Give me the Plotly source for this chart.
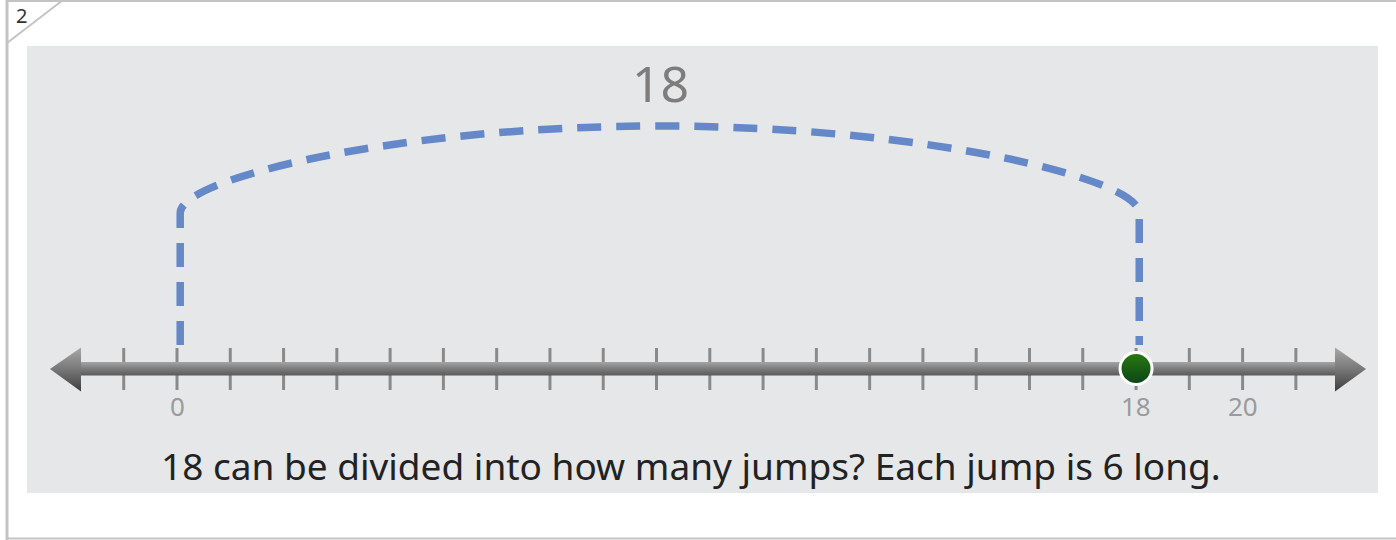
import plotly.graph_objects as go

# ---- data ----
tick_values = list(range(-1, 22))
tick_labels = {0: "0", 18: "18", 20: "20"}
jump_start = 0
jump_end = 18
jump_label = "18"
point_value = 18
question = "18 can be divided into how many jumps? Each jump is 6 long."
problem_number = "2"

# ---- pixel <-> data helpers (layout only) ----
X0PX = 177.0
UNIT = 53.28
W, H = 1396, 540

def px(xp):
    return (xp - X0PX) / UNIT

fig = go.Figure()

# ticks (below the bar)
tx, ty = [], []
for v in tick_values:
    tx += [v, v, None]
    ty += [348, 390, None]
fig.add_trace(go.Scatter(x=tx, y=ty, mode="lines",
                         line=dict(color="#8a8a8a", width=3),
                         hoverinfo="skip", showlegend=False))

# number-line bar (gradient)
bar_l, bar_r = px(80), px(1336)
fig.add_trace(go.Scatter(
    x=[bar_l, bar_r, bar_r, bar_l, bar_l], y=[362, 362, 375.5, 375.5, 362],
    mode="lines", line=dict(width=0), fill="toself",
    fillgradient=dict(type="vertical", start=362, stop=375.5,
                      colorscale=[[0, "#a4a4a4"], [0.5, "#7c7c7c"], [1, "#5a5a5a"]]),
    hoverinfo="skip", showlegend=False))

# arrowheads
for tip, base in ((px(50), px(81)), (px(1366), px(1335))):
    fig.add_trace(go.Scatter(
        x=[base, tip, base, base], y=[347.5, 369, 391.5, 347.5],
        mode="lines", line=dict(width=0), fill="toself",
        fillgradient=dict(type="vertical", start=347.5, stop=391.5,
                          colorscale=[[0, "#a8a8a8"], [0.5, "#777777"], [1, "#3e3e3e"]]),
        hoverinfo="skip", showlegend=False))

# green point
fig.add_trace(go.Scatter(
    x=[point_value], y=[368.5], mode="markers",
    marker=dict(size=32, color="#2a7a10",
                gradient=dict(type="vertical", color="#0a4418"),
                line=dict(color="white", width=3)),
    hoverinfo="skip", showlegend=False))

# dashed jump arc
off = 0.06
a = jump_start + off
b = jump_end + off
mid = (a + b) / 2
span = b - a
path = (f"M {a},345 L {a},213 "
        f"C {a},178 {a + span*0.23},126 {mid},126 "
        f"C {b - span*0.23},126 {b},178 {b},213 L {b},345")
shapes = []

# frame and panel (decoration)
shapes.append(dict(type="rect", xref="paper", yref="paper",
                   x0=27/W, x1=1378/W, y0=1-493/H, y1=1-46/H,
                   fillcolor="#e6e7e9", line=dict(width=0), layer="below"))
shapes.append(dict(type="line", xref="paper", yref="paper",
                   x0=7/W, x1=7/W, y0=0, y1=1, line=dict(color="#c4c4c4", width=3)))
shapes.append(dict(type="line", xref="paper", yref="paper",
                   x0=7/W, x1=1, y0=1-1/H, y1=1-1/H, line=dict(color="#c4c4c4", width=2)))
shapes.append(dict(type="line", xref="paper", yref="paper",
                   x0=7/W, x1=1, y0=1-538.5/H, y1=1-538.5/H, line=dict(color="#c4c4c4", width=2)))
shapes.append(dict(type="line", xref="paper", yref="paper",
                   x0=7/W, x1=63/W, y0=1-43/H, y1=1, line=dict(color="#c4c4c4", width=2)))

shapes.append(dict(type="path", xref="x", yref="y", path=path,
                   line=dict(color="#6488c8", width=7.5, dash="24px,15px"),
                   layer="above"))

fig.update_layout(shapes=shapes)

annotations = []
for v, lab in tick_labels.items():
    annotations.append(dict(x=v, y=406, xref="x", yref="y", text=lab, showarrow=False,
                            xanchor="center", yanchor="middle",
                            font=dict(family="Noto Sans", size=26, color="#9a9a9a")))
annotations.append(dict(x=px(660), y=83, xref="x", yref="y", text=jump_label, showarrow=False,
                        xanchor="center", yanchor="middle",
                        font=dict(family="Noto Sans", size=50, color="#7d7d7d")))
annotations.append(dict(x=px(691), y=465, xref="x", yref="y", text=question, showarrow=False,
                        xanchor="center", yanchor="middle",
                        font=dict(family="Noto Sans", size=37, color="#222222")))
annotations.append(dict(x=21/W, y=1-15/H, xref="paper", yref="paper", text=problem_number,
                        showarrow=False, xanchor="center", yanchor="middle", borderpad=0,
                        font=dict(family="Noto Sans", size=20, color="#333333")))

fig.update_layout(
    annotations=annotations,
    width=W, height=H,
    margin=dict(l=0, r=0, t=0, b=0),
    paper_bgcolor="white", plot_bgcolor="rgba(0,0,0,0)",
    xaxis=dict(range=[px(0), px(W)], visible=False, fixedrange=True),
    yaxis=dict(range=[H, 0], visible=False, fixedrange=True),
    showlegend=False,
)

fig.write_html("out.html", config={"displayModeBar": False},
               post_script="document.body.style.margin='0px';document.body.style.overflow='hidden';")
